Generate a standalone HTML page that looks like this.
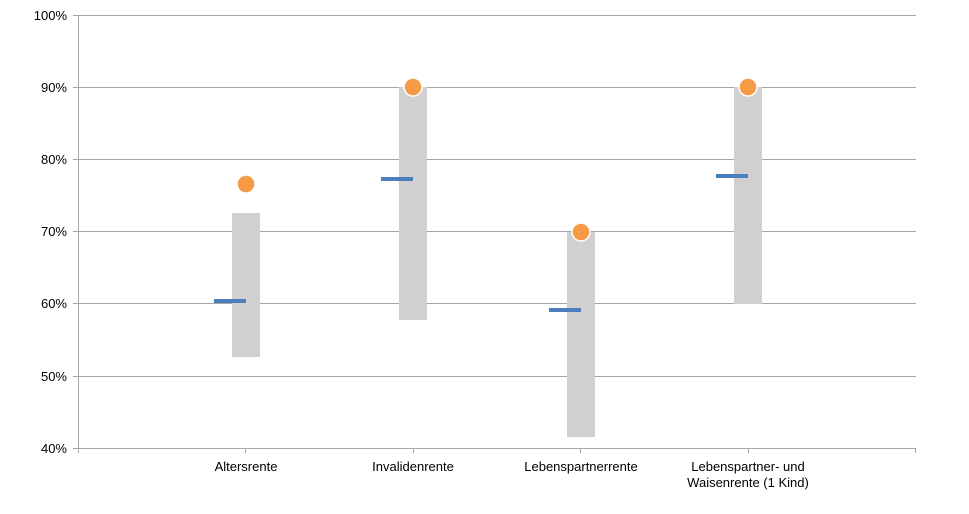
<!DOCTYPE html>
<html><head><meta charset="utf-8"><style>
body{margin:0;background:#fff;}
svg{display:block;font-family:"Liberation Sans",sans-serif;}
</style></head><body>
<svg width="969" height="514" viewBox="0 0 969 514">
<g stroke="#a6a6a6" stroke-width="1">
<line x1="78" y1="15.5" x2="916" y2="15.5"/>
<line x1="78" y1="87.5" x2="916" y2="87.5"/>
<line x1="78" y1="159.5" x2="916" y2="159.5"/>
<line x1="78" y1="231.5" x2="916" y2="231.5"/>
<line x1="78" y1="303.5" x2="916" y2="303.5"/>
<line x1="78" y1="376.5" x2="916" y2="376.5"/>
<line x1="78" y1="448.5" x2="916" y2="448.5"/>
<line x1="78.5" y1="15" x2="78.5" y2="448"/>
<line x1="73" y1="15.5" x2="78" y2="15.5"/>
<line x1="73" y1="87.5" x2="78" y2="87.5"/>
<line x1="73" y1="159.5" x2="78" y2="159.5"/>
<line x1="73" y1="231.5" x2="78" y2="231.5"/>
<line x1="73" y1="303.5" x2="78" y2="303.5"/>
<line x1="73" y1="376.5" x2="78" y2="376.5"/>
<line x1="73" y1="448.5" x2="78" y2="448.5"/>
<line x1="78.5" y1="448" x2="78.5" y2="453"/>
<line x1="245.5" y1="448" x2="245.5" y2="453"/>
<line x1="413.5" y1="448" x2="413.5" y2="453"/>
<line x1="580.5" y1="448" x2="580.5" y2="453"/>
<line x1="748.5" y1="448" x2="748.5" y2="453"/>
<line x1="915.5" y1="448" x2="915.5" y2="453"/>
</g>
<g font-size="13" fill="#000" text-anchor="end">
<text x="67" y="20">100%</text>
<text x="67" y="92">90%</text>
<text x="67" y="164">80%</text>
<text x="67" y="236">70%</text>
<text x="67" y="308">60%</text>
<text x="67" y="381">50%</text>
<text x="67" y="453">40%</text>
</g>
<g fill="#d0d0d0">
<rect x="232" y="213" width="28" height="144"/>
<rect x="399" y="87" width="28" height="233"/>
<rect x="567" y="232" width="28" height="205"/>
<rect x="734" y="87" width="28" height="217"/>
</g>
<g fill="#4a7ebf">
<rect x="214" y="299" width="32" height="4"/>
<rect x="381" y="177" width="32" height="4"/>
<rect x="549" y="308" width="32" height="4"/>
<rect x="716" y="174" width="32" height="4"/>
</g>
<g fill="#f79a46" stroke="#fff" stroke-width="1.5">
<circle cx="246" cy="184" r="9"/>
<circle cx="413" cy="87" r="9"/>
<circle cx="581" cy="232" r="9"/>
<circle cx="748" cy="87" r="9"/>
</g>
<g font-size="13" fill="#000" text-anchor="middle">
<text x="246" y="471">Altersrente</text>
<text x="413" y="471">Invalidenrente</text>
<text x="581" y="471">Lebenspartnerrente</text>
<text x="748" y="471">Lebenspartner- und</text>
<text x="748" y="487">Waisenrente (1 Kind)</text>
</g>
</svg>
</body></html>
